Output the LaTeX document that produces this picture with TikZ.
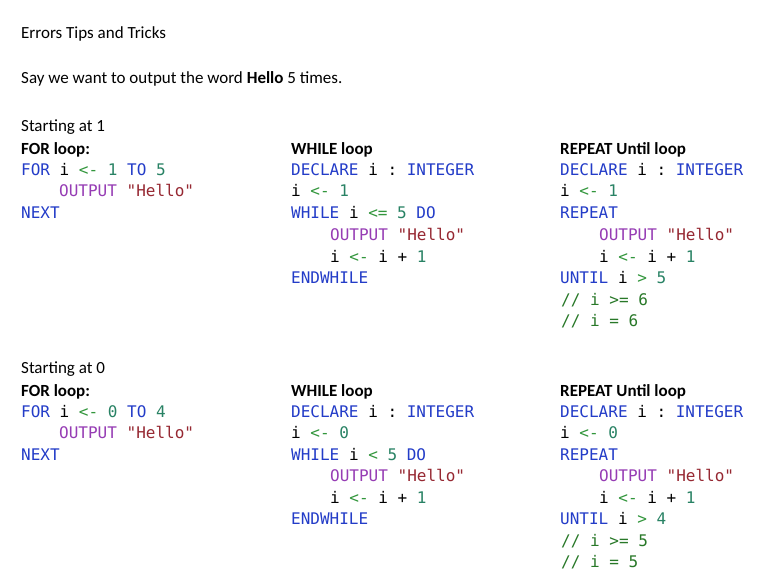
\documentclass[tikz,border=0pt]{standalone}
\usepackage{fontspec}
\setmainfont{Carlito}
\setmonofont{DejaVu Sans Mono}
\definecolor{kwc}{RGB}{35,60,200}
\definecolor{nmc}{RGB}{40,130,100}
\definecolor{opc}{RGB}{50,150,60}
\definecolor{ouc}{RGB}{150,60,180}
\definecolor{stc}{RGB}{150,40,50}
\definecolor{cmc}{RGB}{40,120,40}
\newcommand{\kw}[1]{\textcolor{kwc}{#1}}
\newcommand{\nm}[1]{\textcolor{nmc}{#1}}
\newcommand{\opx}[1]{\textcolor{opc}{#1}}
\newcommand{\ou}{\textcolor{ouc}{OUTPUT}}
\newcommand{\hel}{\textcolor{stc}{"Hello"}}
\newcommand{\cmx}[1]{\textcolor{cmc}{#1}}
\tikzset{
  tx/.style={anchor=base west,inner sep=0pt,font=\fontsize{17bp}{20bp}\selectfont},
  hd/.style={tx,font=\fontsize{17bp}{20bp}\selectfont\bfseries},
  cd/.style={anchor=base west,inner sep=0pt,font=\fontsize{16bp}{19bp}\ttfamily},
}
\begin{document}
\begin{tikzpicture}[x=1bp,y=-1bp]
\useasboundingbox[fill=white] (0,0) rectangle (768,588);
\node[tx] (t1) at (21,39) {Errors Tips and Tricks};
\node[tx] (t2) at (21,84) {Say we want to output the word \textbf{Hello} 5 times.};
\foreach \b/\s/\lim/\wc/\uv/\ca/\cb in {0/1/5/<=/5/6/6, 242/0/4/</4/5/5}{
  \begin{scope}[yshift=-\b]
  \pgfmathtruncatemacro{\upto}{\lim}
  \node[tx] (s\s) at (21,132) {Starting at \s};
  \node[hd] (f\s) at (21,155) {FOR loop:};
  \node[cd] (fa\s) at (21,176) {\kw{FOR} i \opx{<-} \nm{\s} \kw{TO} \nm{\lim}};
  \node[cd] (fb\s) at (59,197) {\ou{} \hel};
  \node[cd] (fc\s) at (21,219) {\kw{NEXT}};
  \node[hd] (w\s) at (291,155) {WHILE loop};
  \node[cd] (wa\s) at (291,176) {\kw{DECLARE} i : \kw{INTEGER}};
  \node[cd] (wb\s) at (291,197) {i \opx{<-} \nm{\s}};
  \node[cd] (wc\s) at (291,219) {\kw{WHILE} i \opx{\wc} \nm{5} \kw{DO}};
  \node[cd] (wd\s) at (330,240) {\ou{} \hel};
  \node[cd] (we\s) at (330,262) {i \opx{<-} i + \nm{1}};
  \node[cd] (wf\s) at (291,283) {\kw{ENDWHILE}};
  \node[hd] (r\s) at (560,155) {REPEAT Until loop};
  \node[cd] (ra\s) at (560,176) {\kw{DECLARE} i : \kw{INTEGER}};
  \node[cd] (rb\s) at (560,197) {i \opx{<-} \nm{\s}};
  \node[cd] (rc\s) at (560,219) {\kw{REPEAT}};
  \node[cd] (rd\s) at (599,240) {\ou{} \hel};
  \node[cd] (re\s) at (599,262) {i \opx{<-} i + \nm{1}};
  \node[cd] (rf\s) at (560,283) {\kw{UNTIL} i \opx{>} \nm{\uv}};
  \node[cd] (rg\s) at (561,305) {\cmx{// i >= \ca}};
  \node[cd] (rh\s) at (561,326) {\cmx{// i = \cb}};
  \end{scope}
}
\end{tikzpicture}
\end{document}
